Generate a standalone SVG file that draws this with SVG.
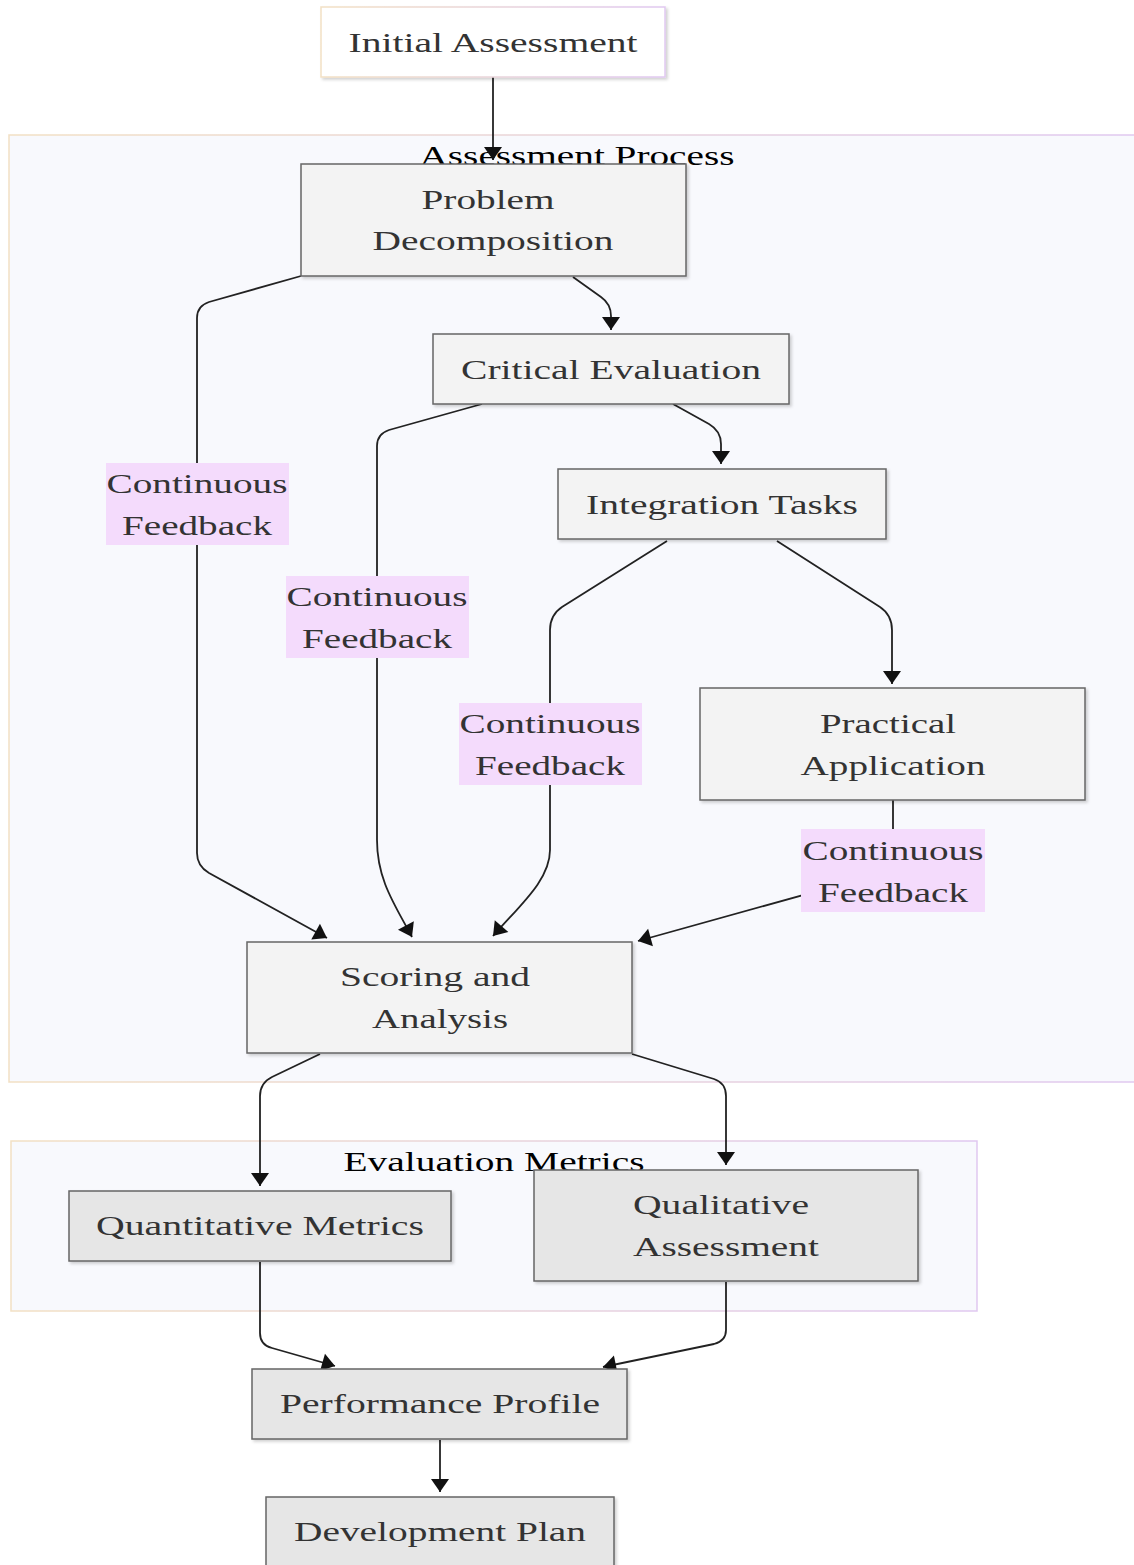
<svg xmlns="http://www.w3.org/2000/svg" width="1134" height="1565" viewBox="0 0 1134 1565">
<style>
text{font-family:"Liberation Serif","Times New Roman",serif;font-size:28px;fill:#333;text-anchor:middle}
.title{fill:#000}
.node{fill:#f3f3f3;stroke:#666;stroke-width:1.5}
.node2{fill:#e6e6e6;stroke:#666;stroke-width:1.5}
.cluster{fill:#f8f9fd;stroke:url(#gb);stroke-width:1.5}
.edge{fill:none;stroke:#222;stroke-width:1.8}
.lbl{fill:#f4dbfc}
</style>
<defs>
<linearGradient id="gb" x1="0" y1="0" x2="1" y2="0">
<stop offset="0" stop-color="#f2e0c4"/>
<stop offset="1" stop-color="#e0c8f0"/>
</linearGradient>
<filter id="sh" x="-5%" y="-5%" width="110%" height="115%">
<feDropShadow dx="2" dy="2" stdDeviation="1.5" flood-color="#000" flood-opacity="0.18"/>
</filter>
<marker id="ah" markerUnits="userSpaceOnUse" markerWidth="20" markerHeight="20" viewBox="0 0 20 20" refX="15" refY="10" orient="auto">
<path d="M2,1 L15,10 L2,19 Z" fill="#111"/>
</marker>
</defs>

<g id="cluster-assessment-process">
<rect class="cluster" x="9" y="135" width="1135" height="947"/>
<text class="title" x="577" y="165" textLength="315" lengthAdjust="spacingAndGlyphs">Assessment Process</text>
</g>
<g id="cluster-evaluation-metrics">
<rect class="cluster" x="11" y="1141" width="966" height="170"/>
<text class="title" x="494" y="1171" textLength="301" lengthAdjust="spacingAndGlyphs">Evaluation Metrics</text>
</g>

<g id="connectors">
<path class="edge" marker-end="url(#ah)" d="M493,77 L493,160"/>
<path class="edge" marker-end="url(#ah)" d="M301,276 L209,302 Q197,306 197,318 L197,853 Q197,866 209,873 L327,938"/>
<path class="edge" marker-end="url(#ah)" d="M573,277 L601,297 Q611,304 611,316 L611,330"/>
<path class="edge" marker-end="url(#ah)" d="M482,404 L389,430 Q377,434 377,446 L377,840 C377,880 395,905 412,937"/>
<path class="edge" marker-end="url(#ah)" d="M673,404 L709,424 Q721,431 721,444 L721,464"/>
<path class="edge" marker-end="url(#ah)" d="M667,541 L562,607 Q550,615 550,630 L550,850 C550,880 520,905 493,936"/>
<path class="edge" marker-end="url(#ah)" d="M777,541 L880,607 Q892,615 892,630 L892,684"/>
<path class="edge" marker-end="url(#ah)" d="M893,800 L893,870 L638,941"/>
<path class="edge" marker-end="url(#ah)" d="M320,1054 L272,1077 Q260,1083 260,1096 L260,1186"/>
<path class="edge" marker-end="url(#ah)" d="M632,1054 L714,1079 Q726,1083 726,1096 L726,1165"/>
<path class="edge" marker-end="url(#ah)" d="M260,1262 L260,1333 Q260,1345 272,1348 L335,1366"/>
<path class="edge" marker-end="url(#ah)" d="M726,1282 L726,1330 Q726,1341 714,1344 L603,1367"/>
<path class="edge" marker-end="url(#ah)" d="M440,1440 L440,1492"/>
</g>

<g id="edge-labels">
<g id="label-1"><rect class="lbl" x="106" y="463" width="183" height="82"/>
<text x="197" y="493" textLength="181" lengthAdjust="spacingAndGlyphs">Continuous</text>
<text x="197" y="535" textLength="150" lengthAdjust="spacingAndGlyphs">Feedback</text></g>
<g id="label-2"><rect class="lbl" x="286" y="576" width="183" height="82"/>
<text x="377" y="606" textLength="181" lengthAdjust="spacingAndGlyphs">Continuous</text>
<text x="377" y="648" textLength="150" lengthAdjust="spacingAndGlyphs">Feedback</text></g>
<g id="label-3"><rect class="lbl" x="459" y="703" width="183" height="82"/>
<text x="550" y="733" textLength="181" lengthAdjust="spacingAndGlyphs">Continuous</text>
<text x="550" y="775" textLength="150" lengthAdjust="spacingAndGlyphs">Feedback</text></g>
<g id="label-4"><rect class="lbl" x="801" y="829" width="184" height="83"/>
<text x="893" y="860" textLength="181" lengthAdjust="spacingAndGlyphs">Continuous</text>
<text x="893" y="902" textLength="150" lengthAdjust="spacingAndGlyphs">Feedback</text></g>
</g>

<g id="node-initial-assessment">
<rect x="321" y="7" width="344" height="70" fill="#fff" stroke="url(#gb)" stroke-width="1.5" filter="url(#sh)"/>
<text x="493" y="52" textLength="289" lengthAdjust="spacingAndGlyphs">Initial Assessment</text>
</g>
<g id="node-problem-decomposition">
<rect class="node" x="301" y="164" width="385" height="112" filter="url(#sh)"/>
<text x="488" y="209" textLength="133" lengthAdjust="spacingAndGlyphs">Problem</text>
<text x="493" y="250" textLength="241" lengthAdjust="spacingAndGlyphs">Decomposition</text>
</g>
<g id="node-critical-evaluation">
<rect class="node" x="433" y="334" width="356" height="70" filter="url(#sh)"/>
<text x="611" y="379" textLength="300" lengthAdjust="spacingAndGlyphs">Critical Evaluation</text>
</g>
<g id="node-integration-tasks">
<rect class="node" x="558" y="469" width="328" height="70" filter="url(#sh)"/>
<text x="722" y="514" textLength="272" lengthAdjust="spacingAndGlyphs">Integration Tasks</text>
</g>
<g id="node-practical-application">
<rect class="node" x="700" y="688" width="385" height="112" filter="url(#sh)"/>
<text x="888" y="733" textLength="136" lengthAdjust="spacingAndGlyphs">Practical</text>
<text x="893" y="775" textLength="185" lengthAdjust="spacingAndGlyphs">Application</text>
</g>
<g id="node-scoring-analysis">
<rect class="node" x="247" y="942" width="385" height="111" filter="url(#sh)"/>
<text x="435" y="986" textLength="190" lengthAdjust="spacingAndGlyphs">Scoring and</text>
<text x="440" y="1028" textLength="136" lengthAdjust="spacingAndGlyphs">Analysis</text>
</g>
<g id="node-quantitative-metrics">
<rect class="node2" x="69" y="1191" width="382" height="70" filter="url(#sh)"/>
<text x="260" y="1235" textLength="328" lengthAdjust="spacingAndGlyphs">Quantitative Metrics</text>
</g>
<g id="node-qualitative-assessment">
<rect class="node2" x="534" y="1170" width="384" height="111" filter="url(#sh)"/>
<text x="721" y="1214" textLength="176" lengthAdjust="spacingAndGlyphs">Qualitative</text>
<text x="726" y="1256" textLength="186" lengthAdjust="spacingAndGlyphs">Assessment</text>
</g>
<g id="node-performance-profile">
<rect class="node2" x="252" y="1369" width="375" height="70" filter="url(#sh)"/>
<text x="440" y="1413" textLength="320" lengthAdjust="spacingAndGlyphs">Performance Profile</text>
</g>
<g id="node-development-plan">
<rect class="node2" x="266" y="1497" width="348" height="80" filter="url(#sh)"/>
<text x="440" y="1541" textLength="292" lengthAdjust="spacingAndGlyphs">Development Plan</text>
</g>
</svg>
